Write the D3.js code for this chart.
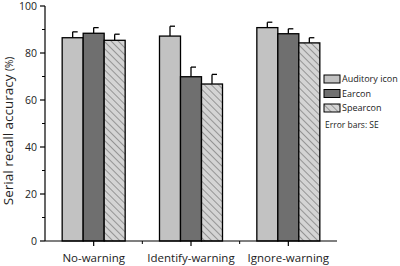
<!DOCTYPE html>
<html><head><meta charset="utf-8">
<script src="https://cdn.jsdelivr.net/npm/d3@7"></script>
<style>body{margin:0;background:#fff}svg{display:block;font-family:"Open Sans",sans-serif}</style>
</head><body><svg id="c" width="400" height="266"></svg>
<script>
const categories = ["No-warning", "Identify-warning", "Ignore-warning"];
const series = ["Auditory icon", "Earcon", "Spearcon"];
const auditory = [86.5, 87.2, 90.8];
const earcon = [88.4, 69.9, 88.2];
const spearcon = [85.4, 66.8, 84.3];
const auditoryErr = [2.5, 4.2, 2.3];
const earconErr = [2.4, 4.1, 2.1];
const spearconErr = [2.6, 4.1, 2.2];
const yTicks = [0, 20, 40, 60, 80, 100];
const yMinorTicks = [10, 30, 50, 70, 90];

const values = [auditory, earcon, spearcon];
const errs = [auditoryErr, earconErr, spearconErr];

const svg = d3.select("#c");
const m = {l:45, r:63, t:6, b:25};
const W = 400, H = 266;
const x0 = d3.scaleBand().domain(categories).range([m.l, W - m.r]).paddingInner(0).paddingOuter(0);
const y = d3.scaleLinear().domain([0, 100]).range([H - m.b, m.t]);
const bw = 21;

const defs = svg.append("defs");
const pat = defs.append("pattern").attr("id","hatch").attr("patternUnits","userSpaceOnUse")
  .attr("width",5).attr("height",5).attr("patternTransform","rotate(45)");
pat.append("rect").attr("width",5).attr("height",5).attr("fill","#d4d4d4");
pat.append("line").attr("x1",0).attr("y1",0).attr("x2",5).attr("y2",0).attr("stroke","#6a6a6a").attr("stroke-width",1.2);
const fills = ["#c2c2c2", "#6f6f6f", "url(#hatch)"];

categories.forEach((c, ci) => {
  const cx = x0(c) + x0.bandwidth()/2;
  series.forEach((s, si) => {
    const v = values[si][ci], e = errs[si][ci];
    const bx = cx - 1.5*bw + si*bw;
    const bxc = bx + bw/2;
    svg.append("line").attr("x1",bxc).attr("x2",bxc).attr("y1",y(v)).attr("y2",y(v+e)).attr("stroke","#000").attr("stroke-width",1.3);
    svg.append("line").attr("x1",bxc).attr("x2",bxc+5).attr("y1",y(v+e)).attr("y2",y(v+e)).attr("stroke","#000").attr("stroke-width",1.3);
    svg.append("rect").attr("x",bx).attr("y",y(v)).attr("width",bw).attr("height",y(0)-y(v))
      .attr("fill",fills[si]).attr("stroke","#000").attr("stroke-width",1.3);
  });
});

// y axis
const ya = svg.append("g").attr("transform",`translate(${m.l},0)`);
ya.append("line").attr("x1",0).attr("x2",0).attr("y1",y(0)).attr("y2",y(100)).attr("stroke","#000").attr("stroke-width",1.2);
yTicks.forEach(t => {
  ya.append("line").attr("x1",-5).attr("x2",0).attr("y1",y(t)).attr("y2",y(t)).attr("stroke","#000").attr("stroke-width",1.2);
  ya.append("text").attr("x",-8).attr("y",y(t)).attr("dy","0.35em").attr("text-anchor","end").attr("font-size",10.5).attr("fill","#222").text(t);
});
yMinorTicks.forEach(t => {
  ya.append("line").attr("x1",-3).attr("x2",0).attr("y1",y(t)).attr("y2",y(t)).attr("stroke","#000").attr("stroke-width",1);
});
const yl = svg.append("text").attr("transform",`translate(13,131) rotate(-90)`).attr("text-anchor","middle").attr("font-size",13.5).attr("fill","#222");
yl.append("tspan").text("Serial recall accuracy ");
yl.append("tspan").attr("font-size",10).text("(%)");

// x axis
const xa = svg.append("g").attr("transform",`translate(0,${y(0)})`);
xa.append("line").attr("x1",m.l).attr("x2",W-m.r).attr("y1",0).attr("y2",0).attr("stroke","#000").attr("stroke-width",1.2);
categories.forEach((c, ci) => {
  const cx = x0(c) + x0.bandwidth()/2;
  xa.append("line").attr("x1",cx).attr("x2",cx).attr("y1",0).attr("y2",5).attr("stroke","#000").attr("stroke-width",1.2);
  xa.append("text").attr("x",cx).attr("y",21).attr("text-anchor","middle").attr("font-size",11.5).attr("fill","#222").text(c);
  if (ci > 0) xa.append("line").attr("x1",x0(c)).attr("x2",x0(c)).attr("y1",0).attr("y2",3).attr("stroke","#000").attr("stroke-width",1);
});

// legend
const lg = svg.append("g").attr("transform","translate(324,75)");
series.forEach((s, si) => {
  const g = lg.append("g").attr("transform",`translate(0,${si*14.5})`);
  g.append("rect").attr("x",0).attr("y",0).attr("width",16).attr("height",8).attr("fill",fills[si]).attr("stroke","#000").attr("stroke-width",1);
  g.append("text").attr("x",18).attr("y",4).attr("dy","0.35em").attr("font-size",9).attr("fill","#222").text(s);
});
lg.append("text").attr("x",1).attr("y",53).attr("font-size",8.5).attr("fill","#222").text("Error bars: SE");
</script></body></html>
